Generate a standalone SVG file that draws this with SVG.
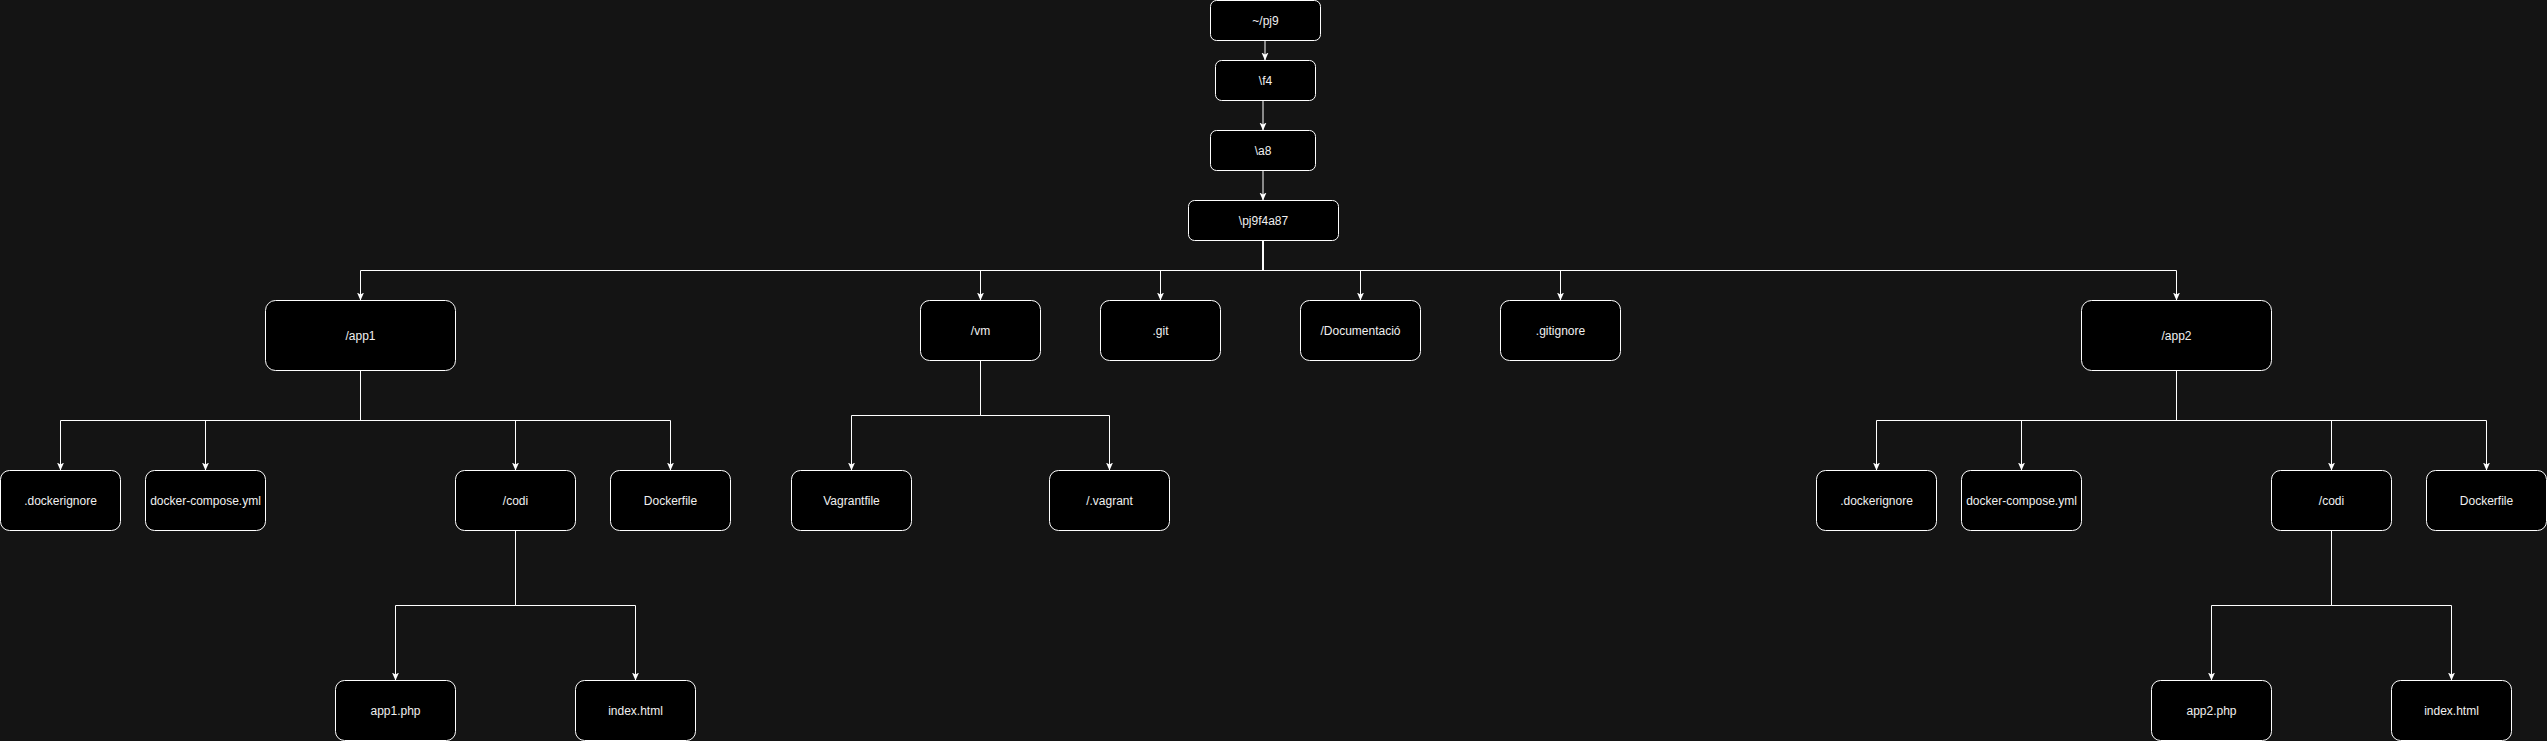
<svg xmlns="http://www.w3.org/2000/svg" width="2547" height="741" viewBox="0 0 2547 741">
<style>
.n rect{fill:#000;stroke:#fff;stroke-width:1}
.n text{fill:#f0f0f0;font-family:"Liberation Sans",Arial,sans-serif;font-size:12px;text-anchor:middle}
#edges path{fill:none;stroke:#fff;stroke-width:1;marker-end:url(#a)}
</style>
<defs>
<marker id="a" markerWidth="8" markerHeight="8" refX="8" refY="4" orient="auto" markerUnits="userSpaceOnUse" viewBox="0 0 8 8">
<path d="M0,0.5 L8,4 L0,7.5 L2,4 Z" fill="#fff" stroke="none"/>
</marker>
</defs>
<rect width="2547" height="741" fill="#141414"/>
<g id="edges">
<path d="M1265,40.5 V60.5"/>
<path d="M1263,100.5 V130.5"/>
<path d="M1263,170.5 V200.5"/>
<path d="M1263,240.5 V270.5 H360.5 V300.5"/>
<path d="M1263,240.5 V270.5 H980.5 V300.5"/>
<path d="M1263,240.5 V270.5 H1160.5 V300.5"/>
<path d="M1263,240.5 V270.5 H1360.5 V300.5"/>
<path d="M1263,240.5 V270.5 H1560.5 V300.5"/>
<path d="M1263,240.5 V270.5 H2176.5 V300.5"/>
<path d="M360.5,370.5 V420.5 H60.5 V470.5"/>
<path d="M360.5,370.5 V420.5 H205.5 V470.5"/>
<path d="M360.5,370.5 V420.5 H515.5 V470.5"/>
<path d="M360.5,370.5 V420.5 H670.5 V470.5"/>
<path d="M515.5,530.5 V605.5 H395.5 V680.5"/>
<path d="M515.5,530.5 V605.5 H635.5 V680.5"/>
<path d="M980.5,360.5 V415.5 H851.5 V470.5"/>
<path d="M980.5,360.5 V415.5 H1109.5 V470.5"/>
<path d="M2176.5,370.5 V420.5 H1876.5 V470.5"/>
<path d="M2176.5,370.5 V420.5 H2021.5 V470.5"/>
<path d="M2176.5,370.5 V420.5 H2331.5 V470.5"/>
<path d="M2176.5,370.5 V420.5 H2486.5 V470.5"/>
<path d="M2331.5,530.5 V605.5 H2211.5 V680.5"/>
<path d="M2331.5,530.5 V605.5 H2451.5 V680.5"/>
</g>
<g id="n_pj9" class="n"><rect x="1210.5" y="0.5" width="110" height="40" rx="6"/><text x="1265.5" y="24.5">~/pj9</text></g>
<g id="n_f4" class="n"><rect x="1215.5" y="60.5" width="100" height="40" rx="6"/><text x="1265.5" y="84.5">\f4</text></g>
<g id="n_a8" class="n"><rect x="1210.5" y="130.5" width="105" height="40" rx="6"/><text x="1263" y="154.5">\a8</text></g>
<g id="n_root" class="n"><rect x="1188.5" y="200.5" width="150" height="40" rx="6"/><text x="1263.5" y="224.5">\pj9f4a87</text></g>
<g id="n_app1" class="n"><rect x="265.5" y="300.5" width="190" height="70" rx="10"/><text x="360.5" y="339.5">/app1</text></g>
<g id="n_vm" class="n"><rect x="920.5" y="300.5" width="120" height="60" rx="9"/><text x="980.5" y="334.5">/vm</text></g>
<g id="n_git" class="n"><rect x="1100.5" y="300.5" width="120" height="60" rx="9"/><text x="1160.5" y="334.5">.git</text></g>
<g id="n_doc" class="n"><rect x="1300.5" y="300.5" width="120" height="60" rx="9"/><text x="1360.5" y="334.5">/Documentació</text></g>
<g id="n_gitignore" class="n"><rect x="1500.5" y="300.5" width="120" height="60" rx="9"/><text x="1560.5" y="334.5">.gitignore</text></g>
<g id="n_app2" class="n"><rect x="2081.5" y="300.5" width="190" height="70" rx="10"/><text x="2176.5" y="339.5">/app2</text></g>
<g id="n_di1" class="n"><rect x="0.5" y="470.5" width="120" height="60" rx="9"/><text x="60.5" y="504.5">.dockerignore</text></g>
<g id="n_dc1" class="n"><rect x="145.5" y="470.5" width="120" height="60" rx="9"/><text x="205.5" y="504.5">docker-compose.yml</text></g>
<g id="n_codi1" class="n"><rect x="455.5" y="470.5" width="120" height="60" rx="9"/><text x="515.5" y="504.5">/codi</text></g>
<g id="n_df1" class="n"><rect x="610.5" y="470.5" width="120" height="60" rx="9"/><text x="670.5" y="504.5">Dockerfile</text></g>
<g id="n_php1" class="n"><rect x="335.5" y="680.5" width="120" height="60" rx="9"/><text x="395.5" y="714.5">app1.php</text></g>
<g id="n_idx1" class="n"><rect x="575.5" y="680.5" width="120" height="60" rx="9"/><text x="635.5" y="714.5">index.html</text></g>
<g id="n_vagrantfile" class="n"><rect x="791.5" y="470.5" width="120" height="60" rx="9"/><text x="851.5" y="504.5">Vagrantfile</text></g>
<g id="n_vagrant" class="n"><rect x="1049.5" y="470.5" width="120" height="60" rx="9"/><text x="1109.5" y="504.5">/.vagrant</text></g>
<g id="n_di2" class="n"><rect x="1816.5" y="470.5" width="120" height="60" rx="9"/><text x="1876.5" y="504.5">.dockerignore</text></g>
<g id="n_dc2" class="n"><rect x="1961.5" y="470.5" width="120" height="60" rx="9"/><text x="2021.5" y="504.5">docker-compose.yml</text></g>
<g id="n_codi2" class="n"><rect x="2271.5" y="470.5" width="120" height="60" rx="9"/><text x="2331.5" y="504.5">/codi</text></g>
<g id="n_df2" class="n"><rect x="2426.5" y="470.5" width="120" height="60" rx="9"/><text x="2486.5" y="504.5">Dockerfile</text></g>
<g id="n_php2" class="n"><rect x="2151.5" y="680.5" width="120" height="60" rx="9"/><text x="2211.5" y="714.5">app2.php</text></g>
<g id="n_idx2" class="n"><rect x="2391.5" y="680.5" width="120" height="60" rx="9"/><text x="2451.5" y="714.5">index.html</text></g>
</svg>
